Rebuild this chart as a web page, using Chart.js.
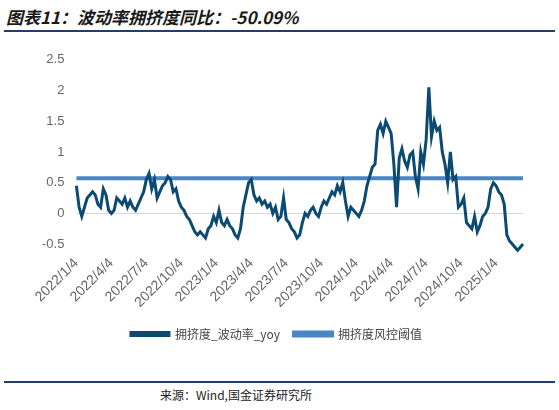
<!DOCTYPE html>
<html>
<head>
<meta charset="utf-8">
<script src="https://cdn.jsdelivr.net/npm/chart.js@4"></script>
<style>
  body { margin: 0; width: 559px; height: 410px; background: #fff; font-family: "Noto Sans CJK SC", sans-serif; position: relative; }
  .title { position: absolute; left: 6px; top: 4px; font-size: 17px; font-weight: bold; font-style: italic; color: #1a1a1a; }
  .topline { position: absolute; left: 4px; right: 4px; top: 30px; border-top: 2px solid #1f3f6e; }
  .chartbox { position: absolute; left: 0; top: 40px; width: 559px; height: 310px; }
  .botline { position: absolute; left: 4px; right: 4px; top: 381px; border-top: 2px solid #1f3f6e; }
  .source { position: absolute; left: 160px; top: 386px; font-size: 12px; color: #222; }
</style>
</head>
<body>
<div class="title">图表11：波动率拥挤度同比：-50.09%</div>
<div class="topline"></div>
<div class="chartbox"><canvas id="c"></canvas></div>
<div class="botline"></div>
<div class="source">来源：Wind,国金证券研究所</div>
<script>
// weekly readings, one row per quarter
const crowdYoy = [
  0.45,0.1,-0.05,0.1,0.25,0.3,0.35,0.3,0.15,0.1,0.4,0.3,0.05,
  0.0,0.05,0.25,0.2,0.15,0.25,0.1,0.2,0.1,0.05,0.15,0.25,0.35,
  0.55,0.65,0.4,0.55,0.25,0.35,0.45,0.5,0.6,0.55,0.35,0.4,0.2,
  0.1,0.05,-0.05,-0.1,-0.2,-0.3,-0.35,-0.3,-0.35,-0.4,-0.25,-0.2,-0.05,
  -0.15,0.05,-0.15,-0.2,-0.1,-0.2,-0.25,-0.35,-0.4,-0.25,0.1,0.3,0.5,
  0.55,0.3,0.2,0.25,0.15,0.2,0.1,0.15,0.0,0.1,-0.1,-0.05,0.25,
  -0.1,-0.15,-0.25,-0.3,-0.4,-0.35,-0.15,0.0,-0.05,0.05,0.1,0.0,-0.05,
  0.1,0.2,0.15,0.25,0.35,0.3,0.45,0.35,0.5,0.2,-0.05,0.1,0.05,
  0.0,-0.05,0.05,0.2,0.45,0.6,0.75,0.8,1.35,1.45,1.3,1.5,1.4,
  1.3,0.8,0.1,0.9,1.05,0.85,0.75,0.95,1.0,0.6,0.4,1.0,0.8,
  1.2,2.05,1.25,1.5,1.35,1.4,1.0,0.8,0.5,1.0,0.55,0.6,0.1,
  0.15,0.25,-0.15,-0.2,-0.25,-0.05,-0.3,-0.2,-0.05,0.0,0.1,0.4,0.5,
  0.45,0.35,0.3,0.15,-0.35,-0.45,-0.5,-0.55,-0.6,-0.55,-0.5
];
const threshold = 0.57;
const quarterLabels = ['2022/1/4','2022/4/4','2022/7/4','2022/10/4','2023/1/4','2023/4/4','2023/7/4',
  '2023/10/4','2024/1/4','2024/4/4','2024/7/4','2024/10/4','2025/1/4'];
const weeksPerQuarter = 13;

const labels = crowdYoy.map((v, i) => i % weeksPerQuarter === 0 ? quarterLabels[i / weeksPerQuarter] : '');

new Chart(document.getElementById('c'), {
  type: 'line',
  data: {
    labels: labels,
    datasets: [
      { label: '拥挤度_波动率_yoy', data: crowdYoy, borderColor: '#0b4a72', backgroundColor: '#0b4a72',
        borderWidth: 3, pointRadius: 0, tension: 0, clip: false },
      { label: '拥挤度风控阈值', data: crowdYoy.map(() => threshold), borderColor: '#4a86c5', backgroundColor: '#4a86c5',
        borderWidth: 4, pointRadius: 0 }
    ]
  },
  options: {
    responsive: true,
    maintainAspectRatio: false,
    animation: false,
    layout: { padding: { left: 30, right: 36, top: 2, bottom: 0 } },
    plugins: {
      legend: {
        position: 'bottom',
        labels: { boxWidth: 38, boxHeight: 3, padding: 14, color: '#444', font: { size: 12, family: 'Noto Sans CJK SC' } }
      },
      tooltip: { enabled: false }
    },
    scales: {
      x: {
        grid: { display: false },
        border: { display: false },
        ticks: { autoSkip: false, maxRotation: 45, minRotation: 45, color: '#666', font: { size: 14 },
                 callback: function (v, i) { return labels[i]; } }
      },
      y: {
        min: -0.5, max: 2.5,
        grid: { display: true, drawTicks: false, color: ctx => ctx.tick.value === 0 ? '#d9d9d9' : 'transparent' },
        border: { display: false },
        ticks: { stepSize: 0.5, color: '#666', font: { size: 13 }, padding: 12, callback: v => String(v) }
      }
    }
  }
});
</script>
</body>
</html>
